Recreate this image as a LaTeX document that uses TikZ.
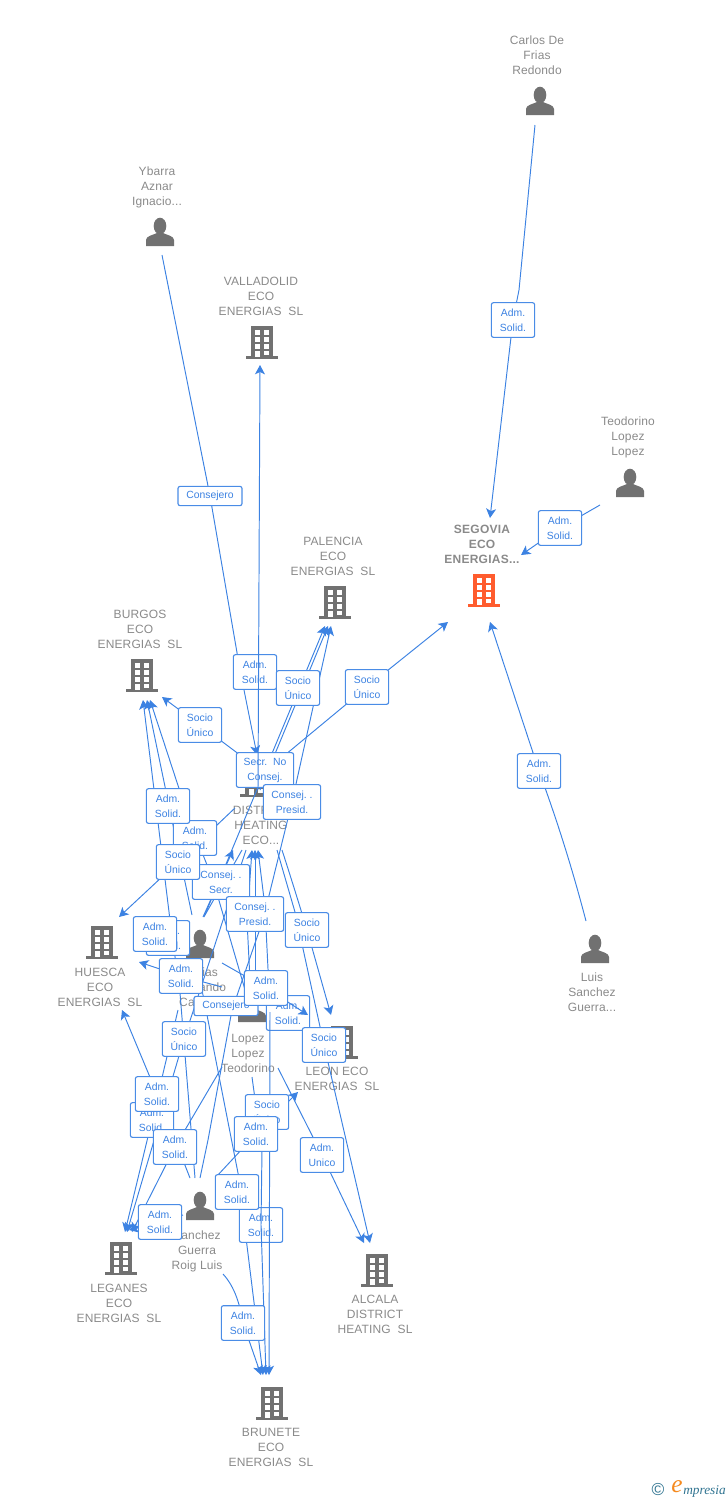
\documentclass[tikz,border=0pt]{standalone}
\usepackage{fontspec}
\setmainfont{Liberation Sans}
\newfontfamily\logofont{Liberation Serif}
\usetikzlibrary{arrows.meta}
\definecolor{linkblue}{HTML}{3C82E2}
\definecolor{boxblue}{HTML}{4A8CE6}
\definecolor{labelgray}{HTML}{8A8A8A}
\definecolor{icongray}{HTML}{717171}
\definecolor{hotorange}{HTML}{FF5C2E}
\definecolor{logoteal}{HTML}{2F7390}
\definecolor{logoorange}{HTML}{F58A1F}
\newcommand\cc[3]{\coordinate (#1) at (#2,#3);}
\tikzset{
  x=0.75pt,y=-0.75pt,
  conn/.style={draw=linkblue,line width=0.72pt},
  tip/.style={conn,-{Stealth[length=7pt,width=7.5pt,inset=1.8pt]}},
  lab/.style={draw=boxblue,line width=0.85pt,rounded corners=1.6pt,fill=white,text=linkblue,
    font=\fontsize{7.8}{11.25}\selectfont,align=center,inner sep=0pt,minimum width=32.5pt,minimum height=26pt},
  labw/.style={lab,minimum width=43pt},
  labc/.style={lab,minimum width=48pt,minimum height=14.5pt},
  ent/.style={text=labelgray,font=\fontsize{9}{11.25}\selectfont\addfontfeature{LetterSpace=1},align=center,inner sep=0pt,anchor=north},
  pics/bldg/.style={code={
    \fill[#1] (-11,-16) rectangle (11,15);
    \fill[#1] (-16,14) rectangle (16,17);
    \foreach \yy in {-12,-5,2}{
      \fill[white] (-7,\yy) rectangle (-2,\yy+5);
      \fill[white] (2,\yy) rectangle (7,\yy+5);}
    \fill[white] (2,9) rectangle (7,13);
    \fill[white] (-7,9) rectangle (-2,15);
  }},
  pics/pers/.style={code={
    \fill[icongray] (0,-7) ellipse (6.3 and 8.3);
    \fill[icongray] (-14,13) -- (-14,7) .. controls (-14,3) and (-7,2) .. (-3,0) -- (3,0) .. controls (7,2) and (14,3) .. (14,7) -- (14,13) -- cycle;
  }},
}
\begin{document}
\begin{tikzpicture}
\useasboundingbox (0,0) rectangle (728,1500);
% entities
\node[ent] (carlos) at (537,36) {Carlos De\\Frias\\Redondo};
\pic at (540,102) {pers};
\node[ent] (ybarra) at (157,167) {Ybarra\\Aznar\\Ignacio...};
\pic at (160,233) {pers};
\node[ent] (valladolid) at (261,277) {VALLADOLID\\ECO\\ENERGIAS\ \ SL};
\pic at (262,342) {bldg=icongray};
\node[ent] (teodorino) at (628,417) {Teodorino\\Lopez\\Lopez};
\pic at (630,484) {pers};
\node[ent,font=\fontsize{9}{11.25}\selectfont\bfseries\addfontfeature{LetterSpace=2}] (segovia) at (482,525) {SEGOVIA\\ECO\\ENERGIAS...};
\pic at (484,590) {bldg=hotorange};
\node[ent] (palencia) at (333,537) {PALENCIA\\ECO\\ENERGIAS\ \ SL};
\pic at (335,602) {bldg=icongray};
\node[ent] (burgos) at (140,610) {BURGOS\\ECO\\ENERGIAS\ \ SL};
\pic at (142,675) {bldg=icongray};
\pic at (256,780) {bldg=icongray};
\node[ent] (district) at (261,806) {DISTRICT\\HEATING\\ECO...};
\pic at (102,942) {bldg=icongray};
\node[ent] (huesca) at (100,968) {HUESCA\\ECO\\ENERGIAS\ \ SL};
\pic at (200,945) {pers};
\node[ent] (matias) at (200,968) {Matias\\Fernando\\Calvo...};
\pic at (252,1009) {pers};
\node[ent] (lopez) at (248,1034) {Lopez\\Lopez\\Teodorino};
\pic at (342,1042) {bldg=icongray};
\node[ent] (leon) at (337,1067) {LEON ECO\\ENERGIAS\ \ SL};
\pic at (595,950) {pers};
\node[ent] (luis) at (592,973) {Luis\\Sanchez\\Guerra...};
\pic at (200,1207) {pers};
\node[ent] (sanchez) at (197,1231) {Sanchez\\Guerra\\Roig Luis};
\pic at (121,1258) {bldg=icongray};
\node[ent] (leganes) at (119,1284) {LEGANES\\ECO\\ENERGIAS\ \ SL};
\pic at (377,1270) {bldg=icongray};
\node[ent] (alcala) at (375,1295) {ALCALA\\DISTRICT\\HEATING\ \ SL};
\pic at (272,1403) {bldg=icongray};
\node[ent] (brunete) at (271,1428) {BRUNETE\\ECO\\ENERGIAS\ \ SL};
% free ends and bends
\cc{s1}{535}{125}\cc{b1}{519}{290}\cc{t1}{490}{518}
\cc{s2}{600}{505}\cc{t2}{521}{555}
\cc{s3}{586}{921}\cc{t3}{490}{622}
\cc{s4}{285}{755}\cc{t4}{448}{622}
\cc{s5}{240}{755}\cc{t5}{162}{697}
\cc{s6}{162}{255}\cc{b6}{240}{670}\cc{t6}{257}{755}
\cc{s7}{258}{790}\cc{t7}{260}{365}
\cc{s8}{204}{917}\cc{t8}{325}{626}
\cc{s9}{260}{790}\cc{t9}{328}{626}
\cc{s10}{200}{1178}\cc{b10a}{208}{1140}\cc{b10b}{232}{1010}\cc{b10c}{263}{920}\cc{t10}{331}{626}
\cc{s11}{203}{917}\cc{t11}{233}{850}
\cc{s12}{242}{850}\cc{t12}{205}{915}
\cc{s13}{235}{808}\cc{t13}{119}{917}
\cc{s14}{195}{1178}\cc{b14a}{180}{993}\cc{b14b}{170}{920}\cc{t14}{143}{700}
\cc{s15}{192}{915}\cc{b15}{173}{825}\cc{t15}{147}{700}
\cc{s16}{248}{1000}\cc{b16a}{213}{880}\cc{b16b}{190}{822}\cc{t16}{150}{700}
\cc{s17}{282}{850}\cc{t17}{331}{1015}
\cc{s18}{277}{850}\cc{b18}{295}{912}\cc{t18}{370}{1243}
\cc{s19}{278}{1068}\cc{t19}{364}{1243}
\cc{s20}{222}{963}\cc{t20}{308}{1015}
\cc{s21}{222}{987}\cc{t21}{139}{962}
\cc{s22}{190}{1178}\cc{t22}{122}{1010}
\cc{s23}{246}{850}\cc{t23}{127}{1232}
\cc{s24}{178}{1010}\cc{t24}{125}{1232}
\cc{s25}{222}{1067}\cc{t25}{132}{1232}
\cc{s26}{183}{1215}\cc{t26}{129}{1230}
\cc{s27}{200}{980}\cc{b27a}{207}{1015}\cc{b27b}{238}{1173}\cc{t27}{263}{1375}
\cc{s28}{223}{1274}\cc{t28}{261}{1375}
\cc{s29}{252}{1077}\cc{b29}{262}{1150}\cc{t29}{266}{1375}
\cc{s30}{270}{1012}\cc{t30}{269}{1375}
\cc{s31}{250}{980}\cc{b31}{247}{920}\cc{t31}{252}{850}
\cc{s32}{255}{975}\cc{t32}{255}{850}
\cc{s33}{270}{1010}\cc{b33}{265}{907}\cc{t33}{258}{850}
\cc{s34}{217}{1176}\cc{t34}{298}{1092}
\path (513,320) coordinate (A1) (560,528) coordinate (A3) (539,771) coordinate (A8) (367,687) coordinate (A6)
 (200,725) coordinate (A7) (210,496) coordinate (A2) (298,688) coordinate (A5) (292,802) coordinate (A10)
 (168,806) coordinate (A11) (195,838) coordinate (A12) (178,862) coordinate (A13) (221,882) coordinate (A14)
 (255,914) coordinate (A15) (307,930) coordinate (A16) (168,938) coordinate (A18) (155,934) coordinate (A17)
 (181,976) coordinate (A19) (266,988) coordinate (A20) (226,1006) coordinate (A21) (288,1013) coordinate (A22)
 (324,1045) coordinate (A23) (184,1039) coordinate (A24) (157,1094) coordinate (A25) (152,1120) coordinate (A26)
 (175,1147) coordinate (A27) (267,1112) coordinate (A28) (256,1134) coordinate (A29) (322,1155) coordinate (A30)
 (237,1192) coordinate (A31) (261,1225) coordinate (A32) (160,1222) coordinate (A33) (243,1323) coordinate (A34)
 (255,672) coordinate (A4) (265,770) coordinate (A9);
% connectors under the boxes
\draw[tip] (s1) -- (b1) -- (A1) -- (t1);
\draw[tip] (s2) -- (A3) -- (t2);
\draw[tip] (s3) .. controls (570,860) and (555,815) .. (A8) -- (t3);
\draw[tip] (s4) -- (A6) -- (t4);
\draw[tip] (s5) -- (A7) -- (t5);
\draw[tip] (s6) -- (A2) -- (b6) -- (t6);
\draw[tip] (s8) -- (t8);
\draw[tip] (s9) -- (t9);
\draw[tip] (s10) -- (b10a) -- (b10b) -- (b10c) -- (A10) -- (t10);
\draw[tip] (s11) -- (t11);
\draw[conn] (s12) -- (t12);
\draw[tip] (s13) -- (A13) -- (t13);
\draw[tip] (s14) -- (b14a) -- (b14b) -- (t14);
\draw[tip] (s15) -- (b15) -- (t15);
\draw[tip] (s16) -- (b16a) -- (b16b) -- (t16);
\draw[tip] (s17) .. controls (295,890) and (307,930) .. (A16) -- (t17);
\draw[tip] (s18) -- (b18) -- (A23) -- (t18);
\draw[tip] (s19) -- (A30) -- (t19);
\draw[tip] (s21) -- (A19) -- (t21);
\draw[tip] (s22) -- (A25) -- (t22);
\draw[tip] (s23) -- (A24) -- (t23);
\draw[tip] (s24) -- (A26) -- (t24);
\draw[tip] (s25) -- (A27) -- (t25);
\draw[tip] (s26) -- (A33) -- (t26);
\draw[tip] (s27) -- (b27a) -- (b27b) -- (t27);
\draw[tip] (s28) .. controls (235,1287) and (240,1305) .. (A34) -- (t28);
\draw[tip] (s34) -- (A29) -- (t34);
\draw[tip] (s31) -- (b31) -- (t31);
\draw[tip] (s32) -- (t32);
\draw[tip] (s33) -- (b33) -- (t33);
% boxes
\node[lab] (l1) at (A1) {Adm.\\Solid.};
\node[lab] (l3) at (A3) {Adm.\\Solid.};
\node[lab] (l8) at (A8) {Adm.\\Solid.};
\node[lab] (l6) at (A6) {Socio\\Único};
\node[lab] (l7) at (A7) {Socio\\Único};
\node[labc] (l2) at (A2) {Consejero};
\node[lab] (l4) at (A4) {Adm.\\Solid.};
\node[lab] (l5) at (A5) {Socio\\Único};
\node[labw] (l9) at (A9) {Secr.\ \ No\\Consej.};
\draw[tip] (s7) -- (t7);
\node[labw] (l10) at (A10) {Consej.\ .\\Presid.};
\node[lab] (l12) at (A12) {Adm.\\Solid.};
\node[lab] (l11) at (A11) {Adm.\\Solid.};
\node[labw] (l14) at (A14) {Consej.\ .\\Secr.};
\node[lab] (l13) at (A13) {Socio\\Único};
\node[labw] (l15) at (A15) {Consej.\ .\\Presid.};
\node[lab] (l16) at (A16) {Socio\\Único};
\node[lab] (l18) at (A18) {Adm.\\Solid.};
\node[lab] (l17) at (A17) {Adm.\\Solid.};
\node[lab] (l19) at (A19) {Adm.\\Solid.};
\node[labc] (l21) at (A21) {Consejero};
\node[lab] (l22) at (A22) {Adm.\\Solid.};
\draw[tip] (s20) -- (A20) -- (t20);
\node[lab] (l20) at (A20) {Adm.\\Solid.};
\node[lab] (l23) at (A23) {Socio\\Único};
\node[lab] (l24) at (A24) {Socio\\Único};
\node[lab] (l26) at (A26) {Adm.\\Solid.};
\node[lab] (l25) at (A25) {Adm.\\Solid.};
\node[lab] (l27) at (A27) {Adm.\\Solid.};
\node[lab] (l32) at (A32) {Adm.\\Solid.};
\draw[tip] (s29) -- (b29) -- (A32) -- (t29);
\draw[tip] (s30) -- (t30);
\node[lab] (l28) at (A28) {Socio\\Único};
\node[lab] (l29) at (A29) {Adm.\\Solid.};
\node[lab] (l30) at (A30) {Adm.\\Unico};
\node[lab] (l31) at (A31) {Adm.\\Solid.};
\node[lab] (l33) at (A33) {Adm.\\Solid.};
\node[lab] (l34) at (A34) {Adm.\\Solid.};
% logo
\node[text=logoteal,font=\fontsize{13}{13}\selectfont,inner sep=0pt] (copy) at (658,1489) {©};
\node[text=logoorange,font=\fontsize{19}{19}\logofont\itshape,inner sep=0pt] (logoe) at (677,1487) {e};
\node[text=logoteal,font=\fontsize{10}{10}\logofont\itshape,inner sep=0pt,anchor=west] (logow) at (683,1491) {mpresia};
\end{tikzpicture}
\end{document}
